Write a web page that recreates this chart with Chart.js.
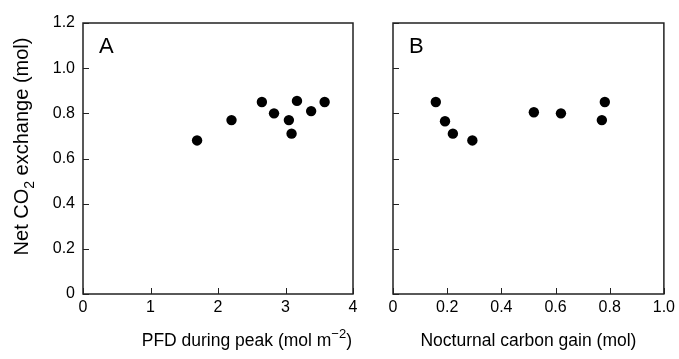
<!DOCTYPE html>
<html>
<head>
<meta charset="utf-8">
<script src="https://cdn.jsdelivr.net/npm/chart.js@4.4.1/dist/chart.umd.min.js"></script>
<style>
  body { margin: 0; background: #fff; }
  .panel { position: absolute; top: 0; }
</style>
</head>
<body>
<canvas id="panelA" class="panel" width="365" height="359" style="left:0"></canvas>
<canvas id="panelB" class="panel" width="314" height="359" style="left:365px"></canvas>
<script>
// Panel A : PFD during peak vs net CO2 exchange
const pfd_x = [1.69, 2.20, 2.65, 2.83, 3.05, 3.09, 3.17, 3.38, 3.58];
const netA_y = [0.68, 0.77, 0.85, 0.80, 0.77, 0.71, 0.855, 0.81, 0.85];

// Panel B : nocturnal carbon gain vs net CO2 exchange
const noct_x = [0.158, 0.192, 0.221, 0.293, 0.520, 0.620, 0.771, 0.782];
const netB_y = [0.85, 0.765, 0.71, 0.68, 0.805, 0.80, 0.77, 0.85];

const xTicksA = [0, 1, 2, 3, 4];
const xTicksB = [0, 0.2, 0.4, 0.6, 0.8, 1.0];
const yTicks = [0, 0.2, 0.4, 0.6, 0.8, 1.0, 1.2];

// titres : morceaux de texte, s = 0 normal, -1 indice, 1 exposant
const yTitle = [{ t: 'Net CO', s: 0 }, { t: '2', s: -1 }, { t: ' exchange (mol)', s: 0 }];
const xTitleA = [{ t: 'PFD during peak (mol m', s: 0 }, { t: '−2', s: 1 }, { t: ')', s: 0 }];
const xTitleB = [{ t: 'Nocturnal carbon gain (mol)', s: 0 }];

const FONT = "'Liberation Sans', Arial, Helvetica, sans-serif";

// texte avec indices / exposants, aligné sur x (align = 'center' ou 'right')
function drawRich(ctx, parts, size, align) {
    const small = Math.round(size * 0.72);
    let w = 0;
    parts.forEach(p => {
        ctx.font = (p.s ? small : size) + 'px ' + FONT;
        p.w = ctx.measureText(p.t).width;
        w += p.w;
    });
    let x = align === 'right' ? -w : -w / 2;
    ctx.textBaseline = 'alphabetic';
    ctx.textAlign = 'left';
    parts.forEach(p => {
        ctx.font = (p.s ? small : size) + 'px ' + FONT;
        const dy = p.s === -1 ? size * 0.3 : p.s === 1 ? -size * 0.45 : 0;
        ctx.fillText(p.t, x, dy);
        x += p.w;
    });
}

// cadre + graduations vers l'intérieur + lettre du panneau + titres
const frameTicks = {
    id: 'frameTicks',
    afterDraw(chart, args, opts) {
        const { ctx, chartArea: a, scales: { x, y } } = chart;
        ctx.save();
        ctx.strokeStyle = '#222';
        ctx.lineWidth = 1.5;
        ctx.strokeRect(a.left, a.top, a.right - a.left, a.bottom - a.top);
        ctx.lineWidth = 1;
        ctx.beginPath();
        x.ticks.forEach(t => {
            const px = Math.round(x.getPixelForValue(t.value)) + 0.5;
            ctx.moveTo(px, a.bottom);
            ctx.lineTo(px, a.bottom - 6);
        });
        y.ticks.forEach(t => {
            const py = Math.round(y.getPixelForValue(t.value)) + 0.5;
            ctx.moveTo(a.left, py);
            ctx.lineTo(a.left + 6, py);
        });
        ctx.stroke();

        ctx.fillStyle = '#000';
        ctx.font = '22px ' + FONT;
        ctx.textBaseline = 'top';
        ctx.fillText(opts.letter, a.left + 16, a.top + 13);

        // titre de l'axe x
        ctx.save();
        if (opts.xAlign === 'right') ctx.translate(a.right - 1, 346);
        else ctx.translate((a.left + a.right) / 2, 346);
        drawRich(ctx, opts.xTitle, 17.5, opts.xAlign);
        ctx.restore();

        // titre de l'axe y
        if (opts.yTitle) {
            ctx.save();
            ctx.translate(28, (a.top + a.bottom) / 2 - 12);
            ctx.rotate(-Math.PI / 2);
            drawRich(ctx, opts.yTitle, 20, 'center');
            ctx.restore();
        }
        ctx.restore();
    }
};

function toPoints(xs, ys) {
    return xs.map((v, i) => ({ x: v, y: ys[i] }));
}

function makePanel(id, cfg) {
    return new Chart(document.getElementById(id), {
        type: 'scatter',
        data: {
            datasets: [{
                data: toPoints(cfg.xs, cfg.ys),
                backgroundColor: '#000',
                borderWidth: 0,
                pointRadius: 5.2
            }]
        },
        options: {
            responsive: false,
            animation: false,
            layout: { padding: { top: 23, right: cfg.padRight, left: 0, bottom: 0 } },
            plugins: {
                legend: { display: false },
                tooltip: { enabled: false },
                frameTicks: { letter: cfg.letter, xTitle: cfg.xTitle, xAlign: cfg.xAlign, yTitle: cfg.yTitle }
            },
            scales: {
                x: {
                    type: 'linear',
                    min: cfg.xTicks[0],
                    max: cfg.xTicks[cfg.xTicks.length - 1],
                    afterBuildTicks: s => { s.ticks = cfg.xTicks.map(v => ({ value: v })); },
                    ticks: {
                        color: '#000',
                        font: { family: FONT, size: 16 },
                        padding: 4,
                        maxRotation: 0,
                        autoSkip: false,
                        callback: cfg.xFmt
                    },
                    grid: { display: false, drawTicks: false },
                    border: { display: false },
                    afterFit: s => { s.height = 65; }
                },
                y: {
                    type: 'linear',
                    min: 0,
                    max: 1.2,
                    afterBuildTicks: s => { s.ticks = yTicks.map(v => ({ value: v })); },
                    ticks: {
                        display: !!cfg.yTitle,
                        color: '#000',
                        font: { family: FONT, size: 16 },
                        padding: 8,
                        callback: v => v === 0 ? '0' : v.toFixed(1)
                    },
                    grid: { display: false, drawTicks: false },
                    border: { display: false },
                    afterFit: s => { s.width = cfg.yWidth; }
                }
            }
        },
        plugins: [frameTicks]
    });
}

makePanel('panelA', {
    xs: pfd_x, ys: netA_y, letter: 'A', padRight: 12, yWidth: 83,
    xTicks: xTicksA, xFmt: v => String(v),
    xTitle: xTitleA, xAlign: 'right', yTitle: yTitle
});

makePanel('panelB', {
    xs: noct_x, ys: netB_y, letter: 'B', padRight: 14, yWidth: 28,
    xTicks: xTicksB, xFmt: v => v === 0 ? '0' : v.toFixed(1),
    xTitle: xTitleB, xAlign: 'center', yTitle: null
});
</script>
</body>
</html>
